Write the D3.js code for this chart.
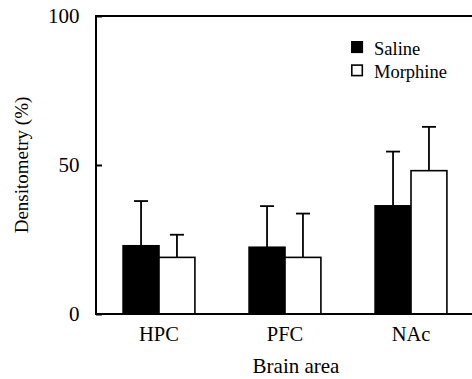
<!DOCTYPE html>
<html>
<head>
<meta charset="utf-8">
<script src="https://cdn.jsdelivr.net/npm/d3@7"></script>
<style>
  body { margin: 0; background: #fff; }
</style>
</head>
<body>
<div id="chart"></div>
<script>
// Data
var areas = ["HPC", "PFC", "NAc"];
var groups = ["Saline", "Morphine"];
var salineMean = [22.9, 22.4, 36.3];
var salineErr = [15.0, 13.8, 18.2];
var morphineMean = [19.0, 19.0, 48.1];
var morphineErr = [7.6, 14.7, 14.7];
var yTicks = [0, 50, 100];

var width = 472, height = 379;
var margin = {top: 16, right: -2, bottom: 65, left: 96};
var serif = "'Liberation Serif', 'Times New Roman', serif";

var svg = d3.select("#chart").append("svg")
    .attr("width", width)
    .attr("height", height);

// Build rows for drawing
var rows = [];
areas.forEach(function (a, i) {
    rows.push({area: a, group: "Saline", mean: salineMean[i], err: salineErr[i]});
    rows.push({area: a, group: "Morphine", mean: morphineMean[i], err: morphineErr[i]});
});

var x0 = d3.scaleBand()
    .domain(areas)
    .range([margin.left, width - margin.right])
    .paddingInner(0.43)
    .paddingOuter(0.215);

var x1 = d3.scaleBand()
    .domain(groups)
    .range([0, x0.bandwidth()]);

var y = d3.scaleLinear()
    .domain([0, 100])
    .range([height - margin.bottom, margin.top]);

var fill = {Saline: "#000", Morphine: "#fff"};

// Bars
svg.selectAll("rect.bar")
    .data(rows)
    .enter().append("rect")
    .attr("class", "bar")
    .attr("x", function (d) { return x0(d.area) + x1(d.group); })
    .attr("y", function (d) { return y(d.mean); })
    .attr("width", x1.bandwidth())
    .attr("height", function (d) { return y(0) - y(d.mean); })
    .attr("fill", function (d) { return fill[d.group]; })
    .attr("stroke", "#000")
    .attr("stroke-width", 1.6);

// Error bars (upper only)
var eb = svg.selectAll("g.err")
    .data(rows)
    .enter().append("g")
    .attr("class", "err")
    .attr("stroke", "#000")
    .attr("stroke-width", 1.8);

eb.append("line")
    .attr("x1", function (d) { return x0(d.area) + x1(d.group) + x1.bandwidth() / 2; })
    .attr("x2", function (d) { return x0(d.area) + x1(d.group) + x1.bandwidth() / 2; })
    .attr("y1", function (d) { return y(d.mean); })
    .attr("y2", function (d) { return y(d.mean + d.err); });

eb.append("line")
    .attr("x1", function (d) { return x0(d.area) + x1(d.group) + x1.bandwidth() / 2 - 7; })
    .attr("x2", function (d) { return x0(d.area) + x1(d.group) + x1.bandwidth() / 2 + 7; })
    .attr("y1", function (d) { return y(d.mean + d.err); })
    .attr("y2", function (d) { return y(d.mean + d.err); });

// Frame (left, top, bottom)
svg.append("path")
    .attr("d", "M" + (width + 2) + "," + y(100) + "H" + margin.left + "V" + y(0) + "H" + (width + 2))
    .attr("fill", "none")
    .attr("stroke", "#000")
    .attr("stroke-width", 2);

// Y axis ticks and labels
var yAxis = svg.append("g")
    .attr("transform", "translate(" + margin.left + ",0)")
    .call(d3.axisRight(y).tickValues(yTicks).tickSize(6).tickFormat(d3.format("d")));
yAxis.attr("font-family", null).attr("font-size", null);
yAxis.select(".domain").remove();
yAxis.selectAll(".tick line").attr("stroke", "#000").attr("stroke-width", 2);
yAxis.selectAll(".tick text")
    .attr("text-anchor", "end")
    .attr("x", -16.5)
    .attr("fill", "#000")
    .style("font-size", "21px")
    .style("font-family", serif);

// X category labels
var xAxis = svg.append("g")
    .attr("transform", "translate(0," + y(0) + ")")
    .call(d3.axisBottom(x0).tickSize(0).tickPadding(12));
xAxis.attr("font-family", null).attr("font-size", null);
xAxis.select(".domain").remove();
xAxis.selectAll(".tick text")
    .attr("fill", "#000")
    .style("font-size", "20.5px")
    .style("font-family", serif);

// Axis titles
svg.append("text")
    .attr("transform", "translate(28," + ((y(0) + y(100)) / 2) + ") rotate(-90)")
    .attr("text-anchor", "middle")
    .style("font-family", serif)
    .style("font-size", "19px")
    .text("Densitometry (%)");

svg.append("text")
    .attr("x", 296)
    .attr("y", 373)
    .attr("text-anchor", "middle")
    .style("font-family", serif)
    .style("font-size", "21px")
    .text("Brain area");

// Legend
var legend = svg.append("g")
    .attr("transform", "translate(351,41)");
groups.forEach(function (g, i) {
    legend.append("rect")
        .attr("x", 0.8)
        .attr("y", i * 23.3 + 0.8)
        .attr("width", 10.5)
        .attr("height", 10.5)
        .attr("fill", fill[g])
        .attr("stroke", "#000")
        .attr("stroke-width", 1.6);
    legend.append("text")
        .attr("x", 23)
        .attr("y", i * 23 + 14)
        .style("font-family", serif)
        .style("font-size", "18.5px")
        .text(g);
});
</script>
</body>
</html>
